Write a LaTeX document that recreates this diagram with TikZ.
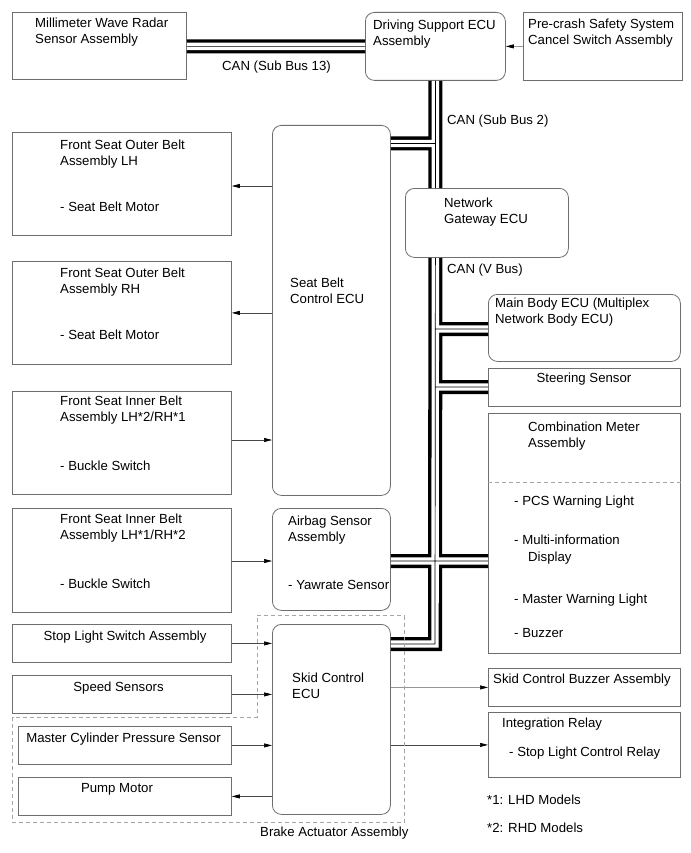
\documentclass[tikz,border=0pt]{standalone}
\usepackage{fontspec}
\setmainfont{Liberation Sans}
\usetikzlibrary{arrows.meta}
\definecolor{boxc}{RGB}{110,110,110}
\definecolor{linec}{RGB}{70,70,70}
\definecolor{lightc}{RGB}{150,150,150}
\definecolor{dashc}{RGB}{165,165,165}
\tikzset{
  box/.style={draw=boxc, line width=0.8pt, inner sep=0pt, anchor=north west},
  rbox/.style={box, rounded corners=9pt},
  txt/.style={font=\fontsize{13.2}{16}\selectfont, inner sep=0pt, align=left, anchor=north west},
  ctxt/.style={font=\fontsize{13.2}{16}\selectfont, inner sep=0pt, anchor=north},
  conn/.style={draw=linec, line width=0.7pt, -{Triangle[length=8pt,width=4pt,color=black]}},
  lconn/.style={conn, draw=lightc},
  dashline/.style={draw=dashc, line width=0.8pt, dash pattern=on 4pt off 3pt},
}
\begin{document}
\begin{tikzpicture}[x=1pt,y=-1pt]
\useasboundingbox[fill=white] (0,0) rectangle (690,853);

% ---- boxes ----
\node[box,  minimum width=174pt, minimum height=67pt]  (mmw)   at (12,12) {};
\node[rbox, minimum width=140pt, minimum height=68pt]  (dse)   at (365,12) {};
\node[box,  minimum width=159pt, minimum height=68pt]  (pcs)   at (523,12) {};
\node[rbox, minimum width=118pt, minimum height=370pt] (sb)    at (272,125) {};
\node[box,  minimum width=219pt, minimum height=103pt] (fsol)  at (12,132) {};
\node[box,  minimum width=219pt, minimum height=103pt] (fsor)  at (12,261) {};
\node[box,  minimum width=219pt, minimum height=103pt] (fsil2) at (12,391) {};
\node[box,  minimum width=219pt, minimum height=104pt] (fsil1) at (12,508) {};
\node[rbox, minimum width=163pt, minimum height=69pt]  (ngw)   at (405,188) {};
\node[rbox, minimum width=192pt, minimum height=67pt]  (mb)    at (488,294) {};
\node[box,  minimum width=192pt, minimum height=38pt]  (ss)    at (488,368) {};
\node[box,  minimum width=192pt, minimum height=240pt] (cm)    at (488,413) {};
\node[rbox, minimum width=118pt, minimum height=102pt] (ab)    at (272,508) {};
\node[box,  minimum width=219pt, minimum height=38pt]  (sls)   at (12,624) {};
\node[box,  minimum width=219pt, minimum height=38pt]  (spd)   at (12,675) {};
\node[box,  minimum width=213pt, minimum height=38pt]  (mcp)   at (18,726) {};
\node[box,  minimum width=213pt, minimum height=38pt]  (pm)    at (18,777) {};
\node[rbox, minimum width=118pt, minimum height=190pt] (skid)  at (272,624) {};
\node[box,  minimum width=192pt, minimum height=38pt]  (scb)   at (488,668) {};
\node[box,  minimum width=192pt, minimum height=65pt]  (ir)    at (488,712) {};

% ---- texts ----
\node[txt] (mmw-t)   at (35,17.5)   {Millimeter Wave Radar\\Sensor Assembly};
\node[txt] (dse-t)   at (373,19.5)  {Driving Support ECU\\Assembly};
\node[txt] (pcs-t)   at (528,18.5)  {Pre-crash Safety System\\Cancel Switch Assembly};
\node[txt] (fsol-t)  at (60,140.1)  {Front Seat Outer Belt\\Assembly LH};
\node[txt] (fsol-m)  at (60,202.1)  {- Seat Belt Motor};
\node[txt] (fsor-t)  at (60,268.1)  {Front Seat Outer Belt\\Assembly RH};
\node[txt] (fsor-m)  at (60,330.1)  {- Seat Belt Motor};
\node[txt] (fsil2-t) at (60,396.1)  {Front Seat Inner Belt\\Assembly LH*2/RH*1};
\node[txt] (fsil2-m) at (60,461.1)  {- Buckle Switch};
\node[txt] (fsil1-t) at (60,514.1)  {Front Seat Inner Belt\\Assembly LH*1/RH*2};
\node[txt] (fsil1-m) at (60,579.1)  {- Buckle Switch};
\node[txt] (sb-t)    at (290,278.1) {Seat Belt\\Control ECU};
\node[txt] (ngw-t)   at (444,198.1) {Network\\Gateway ECU};
\node[txt] (mb-t)    at (495,298.1) {Main Body ECU (Multiplex\\Network Body ECU)};
\node[ctxt] (ss-t)   at (584,373.1) {Steering Sensor};
\node[txt] (cm-t)    at (528,422.1) {Combination Meter\\Assembly};
\node[txt] (cm-1)    at (514,496.1) {- PCS Warning Light};
\node[txt] (cm-2)    at (514,535.1) {- Multi-information};
\node[txt] (cm-2b)   at (528,552.1) {Display};
\node[txt] (cm-3)    at (514,594.1) {- Master Warning Light};
\node[txt] (cm-4)    at (514,628.1) {- Buzzer};
\node[txt] (ab-t)    at (288,516.1) {Airbag Sensor\\Assembly};
\node[txt] (ab-m)    at (288,580.1) {- Yawrate Sensor};
\node[ctxt] (sls-t)  at (125,631.1) {Stop Light Switch Assembly};
\node[ctxt] (spd-t)  at (118.5,682.1) {Speed Sensors};
\node[ctxt] (mcp-t)  at (123.5,733.1) {Master Cylinder Pressure Sensor};
\node[ctxt] (pm-t)   at (117,783.1) {Pump Motor};
\node[txt] (skid-t)  at (292,673.1) {Skid Control\\ECU};
\node[txt] (scb-t)   at (493,674.1) {Skid Control Buzzer Assembly};
\node[txt] (ir-t)    at (502,718.1) {Integration Relay};
\node[txt] (ir-m)    at (509,747.1) {- Stop Light Control Relay};
\node[txt] (can13)   at (222,61.1)  {CAN (Sub Bus 13)};
\node[txt] (can2)    at (447,115.1) {CAN (Sub Bus 2)};
\node[txt] (canv)    at (447,264.1) {CAN (V Bus)};
\node[txt] (bra)     at (260,827.1) {Brake Actuator Assembly};
\node[txt] (n1)      at (487,795.1) {*1: LHD Models};
\node[txt] (n2)      at (487,823.1) {*2: RHD Models};

% ---- bus junctions ----
\coordinate (j1) at (435,143.5);
\coordinate (j2) at (435,329);
\coordinate (j3) at (435,387);
\coordinate (j4) at (435,561);
\coordinate (j6) at (435,644);

\foreach \w/\c in {14pt/black, 7.4pt/white, 0.7pt/black}{
  \draw[line width=\w, draw=\c, line join=miter]
    (mmw.east |- dse.west) -- (dse.west)
    (dse.south) -- (dse.south |- ngw.north)
    (sb.east |- j1) -- (j1)
    (dse.south |- ngw.south) -- (j6) -- (skid.east |- j6)
    (j2) -- (mb.west |- j2)
    (j3) -- (ss.west |- j3)
    (ab.east |- j4) -- (cm.west |- j4);
}

% ---- connectors ----
\draw[lconn] (pcs.west) -- (dse.east);
\draw[conn] (sb.west |- 0,186) -- (fsol.east |- 0,186);
\draw[conn] (sb.west |- fsor.east) -- (fsor.east);
\draw[conn] (fsil2.east |- 0,440) -- (sb.west |- 0,440);
\draw[conn] (fsil1.east |- 0,561) -- (ab.west |- 0,561);
\draw[conn] (sls.east) -- (skid.west |- sls.east);
\draw[conn] (spd.east) -- (skid.west |- spd.east);
\draw[conn] (mcp.east) -- (skid.west |- mcp.east);
\draw[conn] (skid.west |- pm.east) -- (pm.east);
\draw[lconn] (skid.east |- scb.west) -- (scb.west);
\draw[conn] (skid.east |- ir.west) -- (ir.west);

% ---- dashed ----
\draw[dashline] (cm.west |- 0,482) -- (cm.east |- 0,482);
\draw[dashline] (257,615.5) -- (404,615.5) -- (404,822.5) -- (12.7,822.5) -- (12.7,717) -- (257,717) -- cycle;
\end{tikzpicture}
\end{document}
